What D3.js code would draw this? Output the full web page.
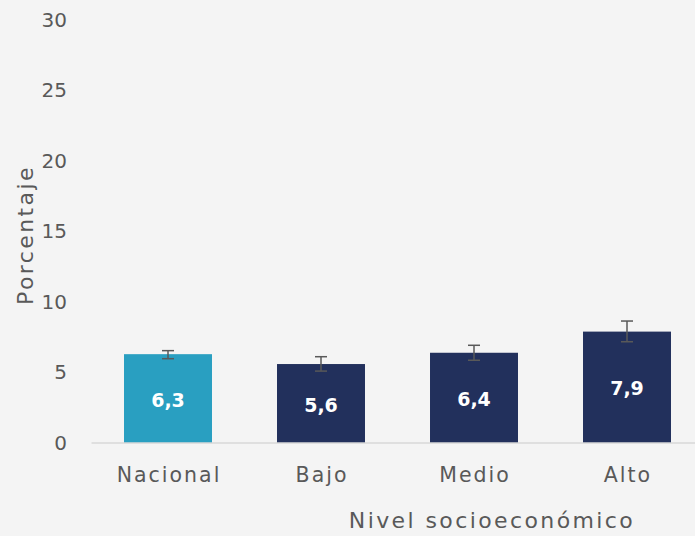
<!DOCTYPE html>
<html><head><meta charset="utf-8">
<script src="https://cdn.jsdelivr.net/npm/d3@7"></script>
<style>body{margin:0;background:#f4f4f4;}svg{display:block;}</style>
</head><body>
<svg id="c" width="695" height="536"></svg>
<script>
const categories = ["Nacional","Bajo","Medio","Alto"];
const values = [6.3,5.6,6.4,7.9];
const errLow = [5.98,5.1,5.87,7.18];
const errHigh = [6.55,6.12,6.93,8.65];
const labels = ["6,3","5,6","6,4","7,9"];
const yTicks = [0,5,10,15,20,25,30];
const colors = ["#299fc1","#22305c","#22305c","#22305c"];

const svg = d3.select("#c");
svg.append("rect").attr("width",695).attr("height",536).attr("fill","#f4f4f4");
const font = "'Century Gothic', 'DejaVu Sans', sans-serif";
const x = d3.scaleBand().domain(categories).range([91.5,703.5]).paddingInner(0.425).paddingOuter(0.2125);
const y = d3.scaleLinear().domain([0,30]).range([443,20]);

// y tick labels
const ya = svg.append("g").attr("transform","translate(67,0)")
  .call(d3.axisLeft(y).tickValues(yTicks).tickSize(0).tickPadding(0).tickFormat(d3.format("d")));
ya.select(".domain").remove();
ya.selectAll("text").attr("fill","#595959").style("font-size","20px").style("font-family",font);

// bars
const data = categories.map((c,i)=>({c,v:values[i],lo:errLow[i],hi:errHigh[i],l:labels[i],col:colors[i]}));
svg.selectAll(".bar").data(data).enter().append("rect")
  .attr("x",d=>x(d.c)).attr("width",x.bandwidth())
  .attr("y",d=>y(d.v)).attr("height",d=>y(0)-y(d.v)).attr("fill",d=>d.col);

// x axis line
const xa = svg.append("g").attr("transform","translate(0,443)")
  .call(d3.axisBottom(x).tickSize(0).tickPadding(24));
xa.select(".domain").attr("stroke","#d9d9d9").attr("stroke-width",1.5).attr("d","M91.5,0H695");
xa.selectAll("text").attr("fill","#595959").style("font-size","20.5px").style("font-family",font)
  .style("letter-spacing","2px").attr("dx","1px");

// error bars
const eb = svg.selectAll(".eb").data(data).enter().append("g").attr("stroke","#595959").attr("stroke-width",1.5);
eb.append("line").attr("x1",d=>x(d.c)+x.bandwidth()/2).attr("x2",d=>x(d.c)+x.bandwidth()/2)
  .attr("y1",d=>y(d.lo)).attr("y2",d=>y(d.hi));
eb.append("line").attr("x1",d=>x(d.c)+x.bandwidth()/2-6).attr("x2",d=>x(d.c)+x.bandwidth()/2+6)
  .attr("y1",d=>y(d.lo)).attr("y2",d=>y(d.lo));
eb.append("line").attr("x1",d=>x(d.c)+x.bandwidth()/2-6).attr("x2",d=>x(d.c)+x.bandwidth()/2+6)
  .attr("y1",d=>y(d.hi)).attr("y2",d=>y(d.hi));

// value labels
svg.selectAll(".lbl").data(data).enter().append("text")
  .attr("x",d=>x(d.c)+x.bandwidth()/2).attr("y",d=>(y(d.v)+y(0))/2 + 1)
  .attr("text-anchor","middle").attr("dominant-baseline","central")
  .attr("fill","#fff").style("font-weight","bold").style("font-size","19px").style("font-family",font)
  .text(d=>d.l);

// axis titles
svg.append("text").attr("x",492).attr("y",528).attr("text-anchor","middle")
  .attr("fill","#595959").style("font-size","22px").style("font-family",font)
  .style("letter-spacing","2.4px").text("Nivel socioeconómico");
svg.append("text").attr("transform","translate(33,235) rotate(-90)").attr("text-anchor","middle")
  .attr("fill","#595959").style("font-size","22px").style("font-family",font)
  .style("letter-spacing","2.4px").text("Porcentaje");
</script>
</body></html>
